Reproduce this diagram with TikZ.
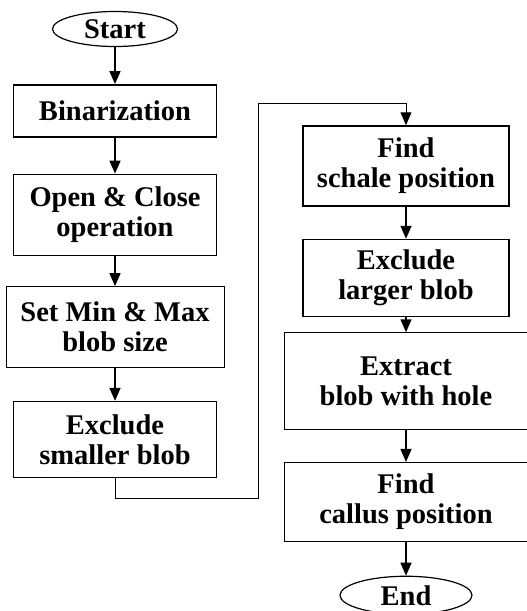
\documentclass[tikz,border=0pt]{standalone}
\usepackage{fontspec}
\setmainfont{Liberation Serif}
\usetikzlibrary{positioning, shapes.geometric, arrows.meta}

\tikzset{
    stepbox/.style={rectangle, draw, line width=1.5pt, align=center, inner sep=0pt,
        font=\bfseries\fontsize{28.5}{30}\selectfont},
    thinbox/.style={stepbox, line width=0.7pt},
    termnode/.style={ellipse, draw, line width=1.2pt, inner sep=0pt,
        font=\bfseries\fontsize{28.5}{30}\selectfont},
    flow/.style={-{Triangle[length=13pt, width=11pt]}, line width=1.5pt},
    loopline/.style={flow, line width=1pt},
}

\begin{document}
\begin{tikzpicture}[x=1pt, y=-1pt]
    \useasboundingbox (0,0) rectangle (527,611);
    % left column
    \node[termnode, minimum width=125pt, minimum height=35pt] (start) at (115,29) {Start};
    \node[stepbox, below=37pt of start, minimum width=203pt, minimum height=52pt] (bin) {Binarization};
    \node[stepbox, below=36pt of bin, minimum width=203pt, minimum height=81pt] (oc) {Open \& Close\\operation};
    \node[thinbox, below=30pt of oc, minimum width=218pt, minimum height=81pt] (setmm) {Set Min \& Max\\blob size};
    \node[stepbox, below=33pt of setmm, minimum width=203pt, minimum height=76pt] (exsm) {Exclude\\smaller blob};
    % right column
    \node[stepbox, minimum width=206pt, minimum height=80pt] (fs) at (406,166) {Find\\schale position};
    \node[stepbox, below=32pt of fs, minimum width=206pt, minimum height=77pt] (exlg) {Exclude\\larger blob};
    \node[thinbox, below=15pt of exlg, minimum width=243pt, minimum height=97pt] (extr) {Extract\\blob with hole};
    \node[thinbox, below=32pt of extr, minimum width=243pt, minimum height=79pt] (fc) {Find\\callus position};
    \node[termnode, below=34pt of fc, minimum width=132pt, minimum height=38pt] (end) {End};

    \coordinate (loopbot) at (258,498);
    \coordinate (looptop) at (258,103);

    \draw[flow] (start) -- (bin);
    \draw[flow] (bin) -- (oc);
    \draw[flow] (oc) -- (setmm);
    \draw[flow] (setmm) -- (exsm);
    \draw[loopline] (exsm.south) |- (loopbot) -- (looptop) -| (fs.north);
    \draw[flow] (fs) -- (exlg);
    \draw[flow] (exlg) -- (extr);
    \draw[flow] (extr) -- (fc);
    \draw[flow] (fc) -- (end);
\end{tikzpicture}
\end{document}
